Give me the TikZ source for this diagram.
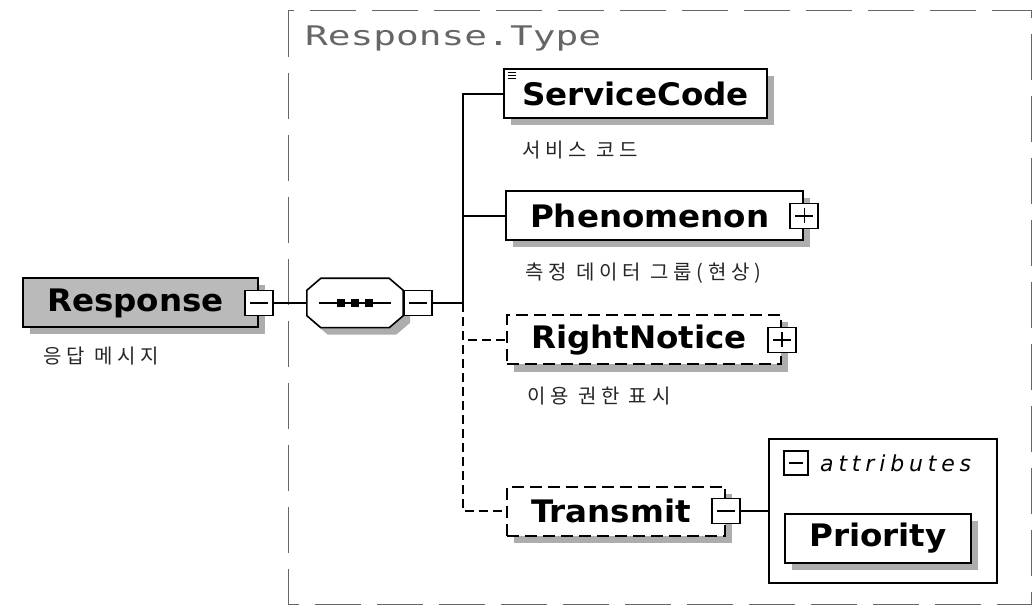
\documentclass[tikz,border=0pt]{standalone}
\usepackage{fontspec}
\setmainfont{DejaVu Sans}
\newfontfamily\typefont{DejaVu Sans Mono}[FakeStretch=1.4]
\newfontfamily\elemfont{DejaVu Sans}[FakeStretch=1.05]
\newfontfamily\notefont{Noto Sans CJK KR}[LetterSpace=24]
\newfontfamily\attrfont{DejaVu Sans}[LetterSpace=22]
\usetikzlibrary{shadows}

\begin{document}
\begin{tikzpicture}[x=1pt,y=-1pt,
  wire/.style={line width=1.6pt},
  optwire/.style={wire,dash pattern=on 9pt off 5pt},
  shade/.style={drop shadow={shadow xshift=7pt,shadow yshift=-7pt,fill=black!32,opacity=1}},
  elem/.style={draw,line width=2pt,fill=white,shade,anchor=west,minimum height=49pt,
    inner xsep=24pt,inner ysep=0pt,font=\elemfont\fontsize{31}{31}\selectfont\bfseries},
  optelem/.style={elem,dash pattern=on 12pt off 6pt},
  collapse/.style={draw,line width=1.8pt,fill=white,minimum width=28pt,minimum height=25pt,inner sep=0pt,
    path picture={\draw[line width=1.6pt] ([xshift=5pt]path picture bounding box.west)
      -- ([xshift=-5pt]path picture bounding box.east);}},
  expand/.style={collapse,
    path picture={\draw[line width=1.6pt] ([xshift=5pt]path picture bounding box.west)
      -- ([xshift=-5pt]path picture bounding box.east);
      \draw[line width=1.6pt] ([yshift=-5pt]path picture bounding box.north)
      -- ([yshift=5pt]path picture bounding box.south);}},
  note/.style={anchor=west,inner sep=0pt,text=black!85,font=\notefont\fontsize{20}{20}\selectfont}]
  \useasboundingbox (0,0) rectangle (1033,609);

  % complex type frame
  \draw[black!60,line width=1pt,dash pattern=on 46pt off 16pt] (288,11) rectangle (1031,604);
  \node[anchor=base west,inner sep=0pt,text=black!60,font=\typefont\fontsize{27}{27}\selectfont]
    (typename) at (305,46) {Response.Type};

  % root element
  \node[elem,fill=black!27] (resp) at (22,303) {Response\kern10pt};
  \node[collapse] (resptog) at (resp.east) {};
  \node[note] (respnote) at ([shift={(21,28)}]resp.south west) {응답 메시지};

  % sequence compositor
  \node[minimum width=96pt,minimum height=49pt,inner sep=0pt] (seq) at (355,303) {};
  \filldraw[wire,fill=white,shade] ([xshift=14pt]seq.north west) -- ([xshift=-14pt]seq.north east)
    -- ([yshift=-12pt]seq.north east) -- ([yshift=12pt]seq.south east)
    -- ([xshift=-14pt]seq.south east) -- ([xshift=14pt]seq.south west)
    -- ([yshift=12pt]seq.south west) -- ([yshift=-12pt]seq.north west) -- cycle;
  \draw[wire] ([xshift=-36pt]seq.center) -- ([xshift=36pt]seq.center);
  \foreach \dx in {-14,0,14}
    \fill ([shift={(\dx-4,-4)}]seq.center) rectangle +(8,8);
  \node[collapse,anchor=west] (seqtog) at (seq.east) {};
  \coordinate (bus) at (463,303);
  \draw[wire] (resptog.east) -- (seq.west);
  \draw[wire] (seqtog.east) -- (bus);

  % child elements
  \node[elem,inner xsep=18pt] (svc) at (503,94) {ServiceCode};
  \foreach \dy in {4,7,10}
    \draw[line width=1.2pt] ([shift={(5,\dy)}]svc.north west) -- +(8,0);
  \node[note] (svcnote) at ([shift={(19,31)}]svc.south west) {서비스 코드};

  \node[elem] (phen) at (505,216) {Phenomenon\kern10pt};
  \node[expand] (phentog) at (phen.east) {};
  \node[note] (phennote) at ([shift={(20,32)}]phen.south west) {측정 데이터 그룹(현상)};

  \node[optelem] (right) at (506,340) {RightNotice\kern10pt};
  \node[expand] (righttog) at (right.east) {};
  \node[note] (rightnote) at ([shift={(21,31)}]right.south west) {이용 권한 표시};

  \node[optelem] (trans) at (506,511) {Transmit\kern10pt};
  \node[collapse] (transtog) at (trans.east) {};

  \draw[wire] (bus) |- (svc.west);
  \draw[wire] (bus) |- (phen.west);
  \draw[optwire] (bus) |- (right.west);
  \draw[optwire] (bus) |- (trans.west);

  % attribute group of Transmit
  \node[draw,line width=2pt,fill=white,minimum width=228pt,minimum height=144pt,anchor=north west]
    (attrs) at (768,438) {};
  \node[collapse,minimum width=24pt,minimum height=24pt] (attrtog) at (796,463) {};
  \node[anchor=west,inner sep=0pt,font=\attrfont\itshape\fontsize{22}{22}\selectfont]
    (attrlabel) at (820,463) {attributes};
  \node[elem,anchor=center] (prio) at (878,538) {Priority};
  \draw[wire] (transtog.east) -- (transtog.east -| attrs.west);
\end{tikzpicture}
\end{document}
